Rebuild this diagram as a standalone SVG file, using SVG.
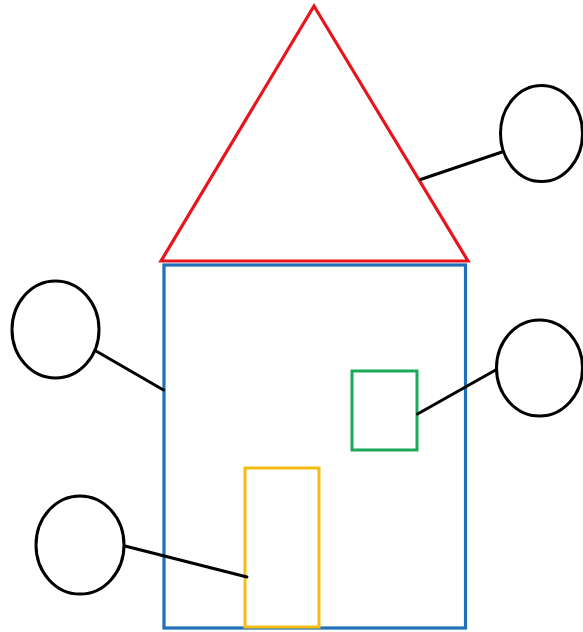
<svg xmlns="http://www.w3.org/2000/svg" width="583" height="632" viewBox="0 0 583 632">
<style>
.c{fill:none;stroke:#000;stroke-width:3}
.l{stroke:#000;stroke-width:3;stroke-linecap:round}
</style>
<rect width="583" height="632" fill="#fff"/>
<g id="roof"><polygon points="314,6 161,261 468,261" fill="none" stroke="#e8141c" stroke-width="3.2" stroke-linejoin="miter"/></g>
<g id="wall"><rect x="164" y="265" width="301.5" height="363" fill="none" stroke="#1f70b8" stroke-width="3.2"/></g>
<g id="window"><rect x="352" y="371" width="65" height="79" fill="none" stroke="#1aa95a" stroke-width="3"/></g>
<g id="door"><rect x="245" y="468" width="74" height="159" fill="none" stroke="#f5bd12" stroke-width="3"/></g>
<g id="label-roof"><ellipse class="c" cx="541.5" cy="133.5" rx="41" ry="48"/></g>
<g id="label-wall"><ellipse class="c" cx="55.5" cy="329.5" rx="43.5" ry="48.5"/></g>
<g id="label-window"><ellipse class="c" cx="539.5" cy="368" rx="43" ry="48"/></g>
<g id="label-door"><ellipse class="c" cx="80" cy="545" rx="44" ry="49"/></g>
<g id="connectors">
<line class="l" x1="420.5" y1="179.5" x2="502" y2="152"/>
<line class="l" x1="96" y1="351" x2="163.5" y2="390"/>
<line class="l" x1="417.5" y1="414" x2="496.5" y2="369.5"/>
<line class="l" x1="125" y1="546" x2="247" y2="577"/>
</g>
</svg>
